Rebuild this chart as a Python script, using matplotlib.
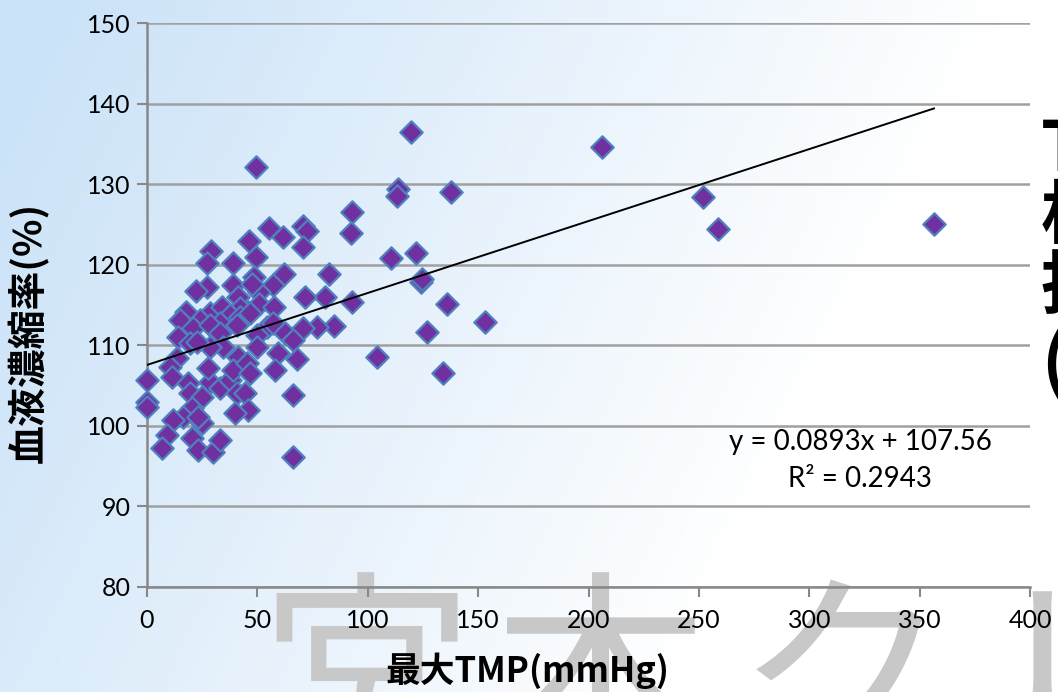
import numpy as np
import matplotlib.pyplot as plt

plt.rcParams['font.family'] = ['Lato', 'Noto Sans CJK JP', 'DejaVu Sans']

# max TMP (mmHg) vs haemoconcentration rate (%)
tmp = [206.1, 251.9, 258.7, 356.5, 119.6, 49.4, 113.7, 113.2, 137.7, 92.9,
       92.5, 110.5, 121.9, 123.9, 124.8, 135.9, 153.1, 126.8, 104.2, 134.1,
       92.9, 84.7, 82.4, 80.6, 71.6, 77.0, 67.9, 66.1, 66.1, 70.7,
       72.5, 70.7, 46.2, 49.4, 55.3, 61.6, 29.0, 27.2, 39.0, 62.1,
       57.1, 48.5, 50.7, 27.2, 22.2, 39.0, 47.6, 41.2, 50.7, 57.5,
       45.8, 42.1, 17.7, 14.9, 28.5, 34.0, 37.6, 24.0, 20.8, 14.0,
       19.5, 33.1, 28.5, 42.1, 40.8, 33.1, 46.7, 54.4, 49.8, 57.1,
       62.5, 70.7, 66.1, 49.8, 59.3, 58.0, 41.2, 34.4, 28.5, 22.6,
       13.6, 10.4, 11.3, 0.0, 0.0, 0.0, 18.6, 19.5, 24.9, 28.5,
       33.1, 37.6, 39.0, 45.3, 46.7, 40.8, 44.4, 45.8, 39.9, 20.4,
       16.3, 24.9, 23.1, 11.8, 9.1, 6.8, 20.4, 23.1, 29.9, 33.1,
       27.6]
hct = [134.6, 128.4, 124.4, 125.1, 136.5, 132.1, 129.4, 128.5, 129.0, 126.6,
       123.9, 120.8, 121.5, 117.9, 118.2, 115.1, 112.9, 111.6, 108.5, 106.6,
       115.4, 112.4, 118.8, 116.0, 116.0, 112.3, 108.3, 103.8, 96.1, 124.8,
       124.2, 122.2, 122.9, 121.0, 124.6, 123.4, 121.7, 120.2, 120.2, 118.8,
       117.5, 118.5, 116.6, 117.2, 116.7, 117.5, 117.6, 116.0, 115.1, 114.8,
       114.1, 114.6, 114.1, 113.1, 114.0, 114.8, 113.8, 113.1, 112.1, 111.0,
       110.3, 112.8, 112.5, 113.5, 112.5, 111.5, 114.0, 112.3, 111.3, 112.8,
       111.5, 112.1, 110.7, 109.8, 109.0, 106.9, 108.5, 109.8, 109.8, 110.4,
       108.4, 107.3, 106.1, 105.7, 103.0, 102.3, 105.3, 104.1, 103.6, 105.4,
       104.7, 105.7, 106.9, 107.8, 106.6, 104.1, 104.1, 102.0, 101.6, 102.2,
       101.1, 100.4, 101.1, 100.7, 98.9, 97.2, 98.5, 97.0, 96.8, 98.2,
       107.2]

slope, intercept, r2 = 0.0893, 107.56, 0.2943
xticks = [0, 50, 100, 150, 200, 250, 300, 350, 400]
yticks = [80, 90, 100, 110, 120, 130, 140, 150]

W, H = 1058, 692
fig = plt.figure(figsize=(W / 100, H / 100), dpi=100)

# background gradient, light blue at the left fading to white
bg = fig.add_axes([0, 0, 1, 1], zorder=-10)
gx, gy = np.meshgrid(np.linspace(0, 1, 300), np.linspace(0, 1, 200))
t = np.clip(gx * 1.1 + gy * 0.35 - 0.05, 0, 1)
blue = np.array([202, 226, 248]) / 255
img = blue[None, None, :] * (1 - t[..., None]) + t[..., None]
bg.imshow(img, aspect='auto', extent=[0, 1, 0, 1])
bg.axis('off')

ax = fig.add_axes([147 / W, 1 - 587 / H, 883 / W, 564 / H])
ax.patch.set_alpha(0)
ax.set_xlim(0, 400)
ax.set_ylim(80, 150)
ax.set_xticks(xticks)
ax.set_yticks(yticks)
ax.grid(axis='y', color='#a0a0a0', linewidth=1.8, zorder=0)
for s in ['top', 'right']:
    ax.spines[s].set_visible(False)
for s in ['left', 'bottom']:
    ax.spines[s].set_color('#888888')
    ax.spines[s].set_linewidth(1.8)
ax.tick_params(axis='both', colors='#888888', width=1.5, length=7,
               labelcolor='black', labelsize=18)
ax.tick_params(axis='y', pad=5)
ax.tick_params(axis='x', pad=9)

ax.scatter(tmp, hct, marker='D', s=130, facecolor='#7030a0',
           edgecolor='#4f81bd', linewidth=1.6, zorder=3, clip_on=False)

xs = np.array([0, max(tmp)])
ax.plot(xs, slope * xs + intercept, color='black', linewidth=1.4, zorder=4)

fig.text(860 / W, 1 - 442 / H, f'y = {slope}x + {intercept}', ha='center',
         va='center', fontsize=20)
fig.text(860 / W, 1 - 479 / H, f'R² = {r2}', ha='center', va='center',
         fontsize=20)

fig.text(527 / W, 1 - 671 / H, '最大TMP(mmHg)', ha='center', va='center',
         fontsize=25, fontweight='bold',
         family=['Noto Sans CJK JP', 'DejaVu Sans'])
fig.text(28 / W, 1 - 332 / H, '血液濃縮率(%)', ha='center', va='center',
         rotation=90, fontsize=28, fontweight='bold',
         family=['Noto Sans CJK JP', 'DejaVu Sans'])

# watermark
for ch, px in zip(['宮', '本', 'ク', 'リ'], [258, 492, 735, 985]):
    fig.text(px / W, 1 - 582 / H, ch, ha='left', va='top', fontsize=155,
             color='#c8c8c8', family=['Noto Sans CJK JP'], zorder=-5)

# slide text cut off at the right edge
for line, py in zip(['TMP', '相関', '指標', '(…'], [150, 218, 288, 365]):
    fig.text(1041 / W, 1 - py / H, line, ha='left', va='center', fontsize=50,
             fontweight='bold', family=['Noto Sans CJK JP'])

fig.savefig('out.png', dpi=100)
